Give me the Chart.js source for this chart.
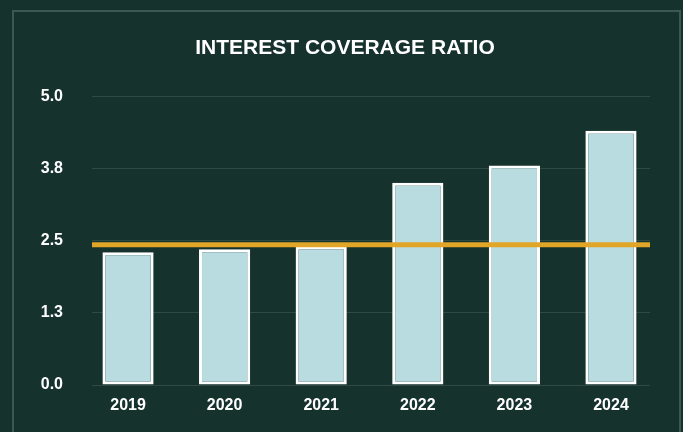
<!DOCTYPE html>
<html>
<head>
<meta charset="utf-8">
<script src="https://cdn.jsdelivr.net/npm/chart.js@4/dist/chart.umd.min.js"></script>
<style>
  html, body { margin: 0; padding: 0; background: #16322d; width: 683px; height: 432px; overflow: hidden; }
  #frame { position: absolute; left: 12px; top: 10px; width: 669px; height: 440px; border: 2px solid #3b5952; box-sizing: border-box; }
  #c { position: absolute; left: 0; top: 0; }
</style>
</head>
<body>
<div id="frame"></div>
<canvas id="c" width="683" height="432"></canvas>
<script>
// ---- data ----
const years = ['2019', '2020', '2021', '2022', '2023', '2024'];
const coverage = [2.3, 2.35, 2.4, 3.5, 3.8, 4.4];
const benchmark = 2.43;
const yTickValues = [0, 1.25, 2.5, 3.75, 5];
const chartTitle = 'INTEREST COVERAGE RATIO';

// ---- chart ----
const FONT = "'Liberation Sans', Arial, Helvetica, sans-serif";
const barData = years.map((y, i) => ({ x: i, y: coverage[i] }));
const lineData = [{ x: 0, y: benchmark }, { x: 1, y: benchmark }];

new Chart(document.getElementById('c'), {
  type: 'bar',
  data: {
    datasets: [
      {
        type: 'line',
        data: lineData,
        xAxisID: 'xb',
        yAxisID: 'y',
        borderColor: '#e1a628',
        borderWidth: 5,
        borderCapStyle: 'butt',
        pointRadius: 0,
        fill: false,
        order: 0
      },
      {
        type: 'bar',
        data: barData,
        xAxisID: 'x',
        yAxisID: 'y',
        backgroundColor: '#b8dcdf',
        borderColor: '#ffffff',
        borderWidth: 3,
        borderSkipped: false,
        grouped: false,
        barPercentage: 0.53,
        categoryPercentage: 1,
        order: 1
      }
    ]
  },
  options: {
    responsive: false,
    animation: false,
    layout: { padding: { left: 7, right: 0, top: 0, bottom: 0 } },
    plugins: {
      legend: { display: false },
      tooltip: { enabled: false },
      title: {
        display: true,
        text: chartTitle,
        color: '#ffffff',
        font: { family: FONT, size: 21, weight: 'bold' },
        padding: { top: 36, bottom: 35 }
      }
    },
    scales: {
      x: {
        type: 'linear',
        position: 'bottom',
        offset: false,
        min: -0.373,
        max: years.length - 1 + 0.404,
        grid: { display: false, drawTicks: false, offset: false },
        border: { display: false },
        ticks: {
          autoSkip: false,
          maxRotation: 0,
          padding: 11,
          color: '#ffffff',
          font: { family: FONT, size: 16, weight: 'bold' },
          callback: (v) => (Number.isInteger(v) && years[v] !== undefined) ? years[v] : ''
        },
        afterBuildTicks: (s) => { s.ticks = years.map((_, i) => ({ value: i })); },
        afterFit: (s) => { s.height = 47; }
      },
      xb: {
        type: 'linear',
        display: false,
        offset: false,
        grid: { offset: false },
        min: 0,
        max: 1
      },
      y: {
        type: 'linear',
        position: 'left',
        min: 0,
        max: 5,
        grid: { color: '#2d4b44', lineWidth: 1, drawTicks: false },
        border: { display: false },
        ticks: {
          padding: 29,
          color: '#ffffff',
          font: { family: FONT, size: 16, weight: 'bold' },
          callback: (v) => Number(v).toFixed(1)
        },
        afterBuildTicks: (s) => { s.ticks = yTickValues.map(v => ({ value: v })); },
        afterFit: (s) => { s.width = 85; }
      },
      yr: {
        type: 'linear',
        position: 'right',
        display: true,
        grid: { display: false, drawTicks: false },
        border: { display: false },
        ticks: { display: false },
        afterFit: (s) => { s.width = 33; }
      }
    }
  }
});
</script>
</body>
</html>
